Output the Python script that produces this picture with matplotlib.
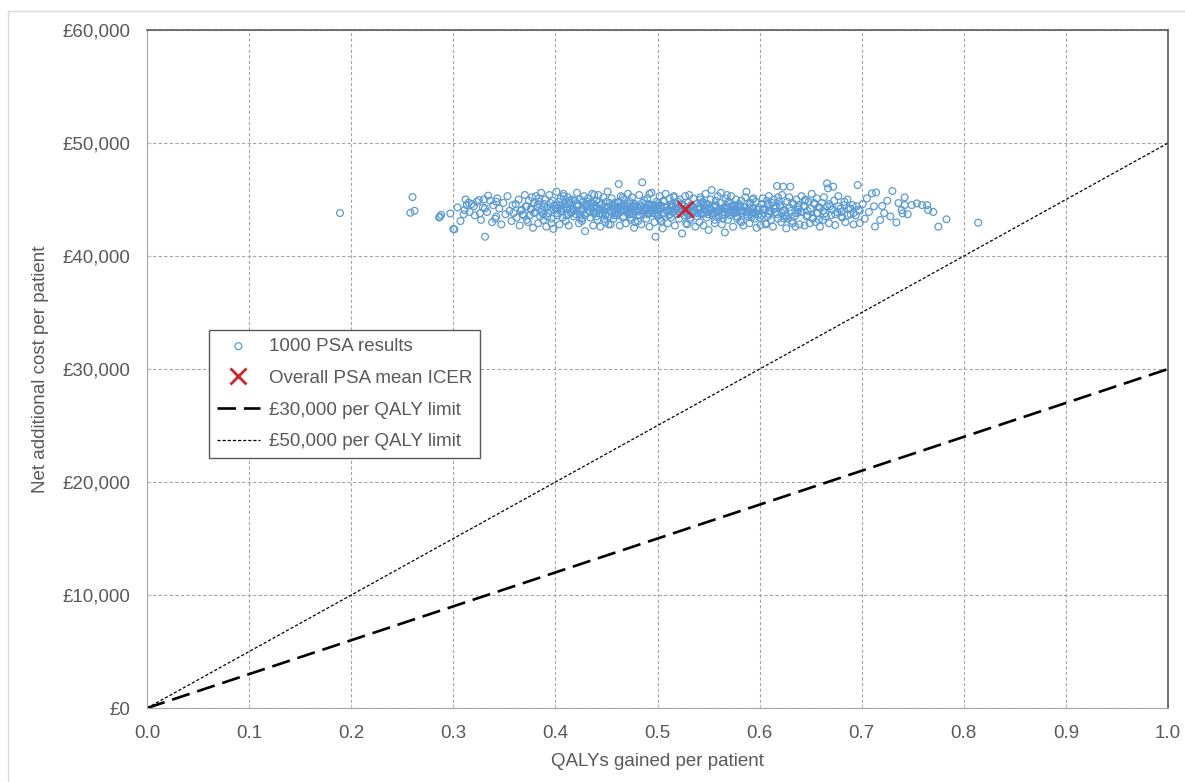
import matplotlib.pyplot as plt
from matplotlib.patches import Rectangle

plt.rcParams['font.family'] = ['Liberation Sans', 'DejaVu Sans']

# =========================
# Data
# =========================

# PSA results (QALYs gained, net additional cost)
psa_qaly = [
    0.189, 0.258, 0.260, 0.262, 0.286, 0.287, 0.288, 0.297, 0.300, 0.301, 0.310, 0.311,
    0.313, 0.315, 0.320, 0.325, 0.326, 0.330, 0.331, 0.331, 0.334, 0.342, 0.342,
    0.304, 0.307, 0.312, 0.316, 0.318,
    0.321, 0.323, 0.327, 0.329, 0.333, 0.336, 0.338, 0.339,
    0.341, 0.343, 0.345, 0.347, 0.349, 0.351, 0.353, 0.355, 0.357, 0.358, 0.359,
    0.361, 0.362, 0.364, 0.365, 0.367, 0.368, 0.370, 0.371, 0.373, 0.374, 0.375, 0.376,
    0.377, 0.378, 0.379,
    0.380, 0.381, 0.382, 0.383, 0.384, 0.385, 0.386, 0.387, 0.388, 0.389, 0.390, 0.391,
    0.392, 0.393, 0.394, 0.395, 0.396, 0.397, 0.398, 0.399,
    0.400, 0.401, 0.402, 0.403, 0.404, 0.405, 0.406, 0.407, 0.408, 0.409, 0.410, 0.411,
    0.412, 0.413, 0.414, 0.415, 0.416, 0.417, 0.418, 0.419, 0.401, 0.405, 0.409, 0.413, 0.417,
    0.420, 0.421, 0.422, 0.423, 0.424, 0.425, 0.426, 0.427, 0.428, 0.429, 0.430, 0.431,
    0.432, 0.433, 0.434, 0.435, 0.436, 0.437, 0.438, 0.439, 0.422, 0.424, 0.427, 0.429,
    0.432, 0.434, 0.437, 0.439,
    0.440, 0.441, 0.442, 0.443, 0.444, 0.445, 0.446, 0.447, 0.448, 0.449, 0.450, 0.451,
    0.452, 0.453, 0.454, 0.455, 0.456, 0.457, 0.458, 0.459, 0.441, 0.443, 0.445, 0.447,
    0.449, 0.451, 0.453, 0.455, 0.457, 0.459,
    0.460, 0.461, 0.462, 0.463, 0.464, 0.465, 0.466, 0.467, 0.468, 0.469, 0.470, 0.471,
    0.472, 0.473, 0.474, 0.475, 0.476, 0.477, 0.478, 0.479, 0.461, 0.462, 0.464, 0.466,
    0.467, 0.469, 0.471, 0.472, 0.474, 0.476, 0.477, 0.479, 0.468,
    0.480, 0.481, 0.482, 0.483, 0.484, 0.485, 0.486, 0.487, 0.488, 0.489, 0.490, 0.491,
    0.492, 0.493, 0.494, 0.495, 0.496, 0.497, 0.498, 0.499, 0.481, 0.482, 0.484, 0.486,
    0.487, 0.489, 0.491, 0.492, 0.494, 0.496, 0.497, 0.498, 0.499,
    0.500, 0.501, 0.502, 0.503, 0.504, 0.505, 0.506, 0.507, 0.508, 0.509, 0.510, 0.511,
    0.512, 0.513, 0.514, 0.515, 0.516, 0.517, 0.518, 0.519, 0.501, 0.503, 0.505, 0.507,
    0.509, 0.511, 0.513, 0.515, 0.517, 0.519,
    0.520, 0.521, 0.522, 0.523, 0.524, 0.525, 0.526, 0.527, 0.528, 0.529, 0.530, 0.531,
    0.532, 0.533, 0.534, 0.535, 0.536, 0.537, 0.538, 0.539, 0.521, 0.523, 0.525, 0.527,
    0.529, 0.531, 0.533, 0.535, 0.537, 0.539,
    0.540, 0.541, 0.542, 0.543, 0.544, 0.545, 0.546, 0.547, 0.548, 0.549, 0.550, 0.551,
    0.552, 0.553, 0.554, 0.555, 0.556, 0.557, 0.558, 0.559, 0.541, 0.543, 0.545, 0.547,
    0.549, 0.551, 0.553, 0.555, 0.557, 0.559,
    0.560, 0.561, 0.562, 0.563, 0.564, 0.565, 0.566, 0.567, 0.568, 0.569, 0.570, 0.571,
    0.572, 0.573, 0.574, 0.575, 0.576, 0.577, 0.578, 0.579, 0.562, 0.564, 0.567, 0.569,
    0.572, 0.574, 0.577, 0.579,
    0.580, 0.581, 0.582, 0.583, 0.584, 0.585, 0.586, 0.587, 0.588, 0.589, 0.590, 0.591,
    0.592, 0.593, 0.594, 0.595, 0.596, 0.597, 0.598, 0.599, 0.582, 0.586, 0.590, 0.594, 0.598,
    0.600, 0.601, 0.602, 0.603, 0.604, 0.605, 0.606, 0.607, 0.608, 0.609, 0.610, 0.611,
    0.612, 0.613, 0.614, 0.615, 0.616, 0.617, 0.618, 0.619, 0.603, 0.609, 0.615,
    0.620, 0.621, 0.622, 0.623, 0.624, 0.625, 0.626, 0.627, 0.628, 0.629, 0.630, 0.631,
    0.632, 0.633, 0.634, 0.635, 0.636, 0.637, 0.638, 0.639,
    0.640, 0.641, 0.643, 0.644, 0.645, 0.646, 0.648, 0.649, 0.650, 0.651, 0.652, 0.654,
    0.655, 0.656, 0.657, 0.658, 0.659, 0.647,
    0.661, 0.662, 0.663, 0.664, 0.666, 0.667, 0.668, 0.669, 0.670, 0.672, 0.673, 0.674,
    0.676, 0.677, 0.679,
    0.681, 0.683, 0.684, 0.686, 0.687, 0.689, 0.691, 0.692, 0.694, 0.696, 0.697, 0.698,
    0.701, 0.703, 0.705, 0.707, 0.710, 0.712, 0.713, 0.714, 0.718, 0.720,
    0.722, 0.725, 0.728, 0.730, 0.734, 0.736, 0.739, 0.740,
    0.742, 0.742, 0.745, 0.749, 0.754, 0.759, 0.764, 0.765, 0.770, 0.775, 0.783, 0.814,
    # denser core of the cloud
    0.366, 0.369, 0.372, 0.376, 0.379, 0.383, 0.386, 0.389, 0.392, 0.395, 0.398, 0.402,
    0.405, 0.408, 0.411, 0.414, 0.418, 0.421, 0.424, 0.427, 0.431, 0.434, 0.437, 0.440,
    0.443, 0.446, 0.449, 0.452, 0.455, 0.458,
    0.461, 0.464, 0.467, 0.470, 0.473, 0.476, 0.479, 0.482, 0.485, 0.488, 0.491, 0.494,
    0.497, 0.500, 0.503, 0.506, 0.509, 0.512, 0.515, 0.518, 0.521, 0.524, 0.527, 0.530,
    0.533, 0.536, 0.539, 0.542, 0.545, 0.548,
    0.551, 0.554, 0.557, 0.560, 0.563, 0.566, 0.569, 0.572, 0.575, 0.578, 0.581, 0.584,
    0.587, 0.590, 0.593, 0.596, 0.599, 0.602, 0.605, 0.608, 0.611, 0.614, 0.617, 0.620,
    0.623, 0.626, 0.629, 0.632, 0.635, 0.638,
    0.641, 0.644, 0.647, 0.650, 0.653, 0.656, 0.659, 0.662, 0.665, 0.668, 0.671, 0.674,
    0.677, 0.680, 0.683, 0.686, 0.689, 0.692, 0.695, 0.698, 0.372, 0.384, 0.396, 0.408,
    0.426, 0.438, 0.452, 0.466, 0.478, 0.492,
    0.504, 0.516, 0.528, 0.542, 0.556, 0.568, 0.582, 0.594, 0.606, 0.618, 0.632, 0.644,
    0.658, 0.388, 0.402, 0.416, 0.430, 0.444, 0.458, 0.472, 0.486, 0.500, 0.514, 0.530,
    0.546, 0.562, 0.576, 0.590, 0.604, 0.622,
    0.412, 0.424, 0.436, 0.448, 0.462, 0.474, 0.488, 0.502, 0.518, 0.532, 0.548, 0.564,
    0.578, 0.592, 0.608, 0.624, 0.638, 0.652, 0.666, 0.680,
]

psa_cost = [
    43800, 43830, 45220, 44000, 43420, 43480, 43650, 43770, 42390, 42360, 43690, 44070,
    44510, 44720, 44420, 44960, 43780, 45020, 44220, 41710, 45340, 44810, 43490,
    44300, 43100, 45000, 43900, 44600,
    43600, 44800, 43200, 44300, 43900, 44900, 43000, 44500,
    43300, 45100, 44200, 42800, 44700, 43700, 45300, 44000, 43100, 44500, 43800,
    44600, 43400, 45000, 42700, 44100, 43700, 45400, 44400, 43000, 44900, 43600, 44200,
    45200, 42500, 44700,
    43900, 45300, 44400, 42900, 44800, 43500, 45600, 44100, 43200, 44600, 45000, 42600,
    44300, 43800, 45400, 44000, 43300, 44900, 42400, 44500,
    44200, 45700, 43600, 44800, 42800, 45100, 44000, 43400, 45500, 44600, 43100, 44300,
    45200, 42700, 44700, 43800, 45000, 44100, 43500, 44900, 44500, 43900, 44400, 43700, 44200,
    43700, 45600, 44400, 42900, 45000, 44100, 43300, 44800, 45300, 42200, 44500, 43800,
    45100, 44000, 43400, 44700, 45500, 42700, 44300, 43900, 44600, 44000, 44200, 43600,
    44800, 44300, 43800, 44500,
    44900, 43200, 45400, 44100, 42600, 44600, 43700, 45200, 44300, 43000, 44800, 45700,
    43500, 44000, 42800, 45100, 44400, 43300, 44700, 43900, 44200, 43800, 44500, 44000,
    43600, 44300, 44700, 43900, 44100, 44400,
    43600, 44700, 46370, 42700, 45300, 44200, 43400, 45000, 44500, 42900, 44000, 45500,
    43700, 44800, 43200, 45200, 44300, 42500, 44600, 43900, 44100, 43800, 44400, 44000,
    43500, 44300, 44600, 43900, 44200, 43700, 44500, 44100, 44000,
    44400, 43100, 45400, 44000, 42800, 46520, 43700, 44900, 44300, 43300, 45100, 44600,
    42600, 44000, 45600, 43800, 44500, 43000, 41710, 44800, 44200, 43600, 44400, 44100,
    43900, 44300, 43700, 44600, 44000, 44200, 43800, 44500, 44100,
    43500, 44700, 45300, 43100, 44200, 42450, 44900, 43800, 45500, 44400, 42900, 44000,
    45100, 43400, 44600, 43900, 45200, 42700, 44300, 43700, 44100, 44500, 43800, 44300,
    44000, 43600, 44400, 43900, 44200, 44600,
    44800, 43300, 45000, 44100, 42000, 44500, 43600, 45300, 43900, 42800, 44700, 45400,
    43200, 44300, 43800, 45100, 44000, 42600, 44600, 43500, 44200, 43800, 44400, 44000,
    44300, 43700, 44500, 44100, 43900, 44200,
    44400, 43000, 45200, 43700, 44800, 42700, 44100, 45500, 43400, 44600, 42300, 44000,
    45000, 45840, 43600, 44300, 42900, 44900, 43900, 45300, 44200, 43800, 44500, 44000,
    43700, 44300, 44100, 43900, 44400, 44000,
    43500, 44700, 45600, 42800, 44200, 43900, 42090, 45100, 44400, 43200, 44800, 43600,
    45300, 44000, 42600, 44500, 43800, 45000, 43300, 44300, 44100, 43700, 44200, 43900,
    44400, 43800, 44000, 44300,
    44600, 43100, 44900, 43800, 42700, 44300, 45200, 45690, 43500, 44000, 42900, 44700,
    43600, 45000, 44200, 43300, 44800, 42500, 44100, 43700, 44000, 43900, 44300, 43800, 44100,
    43400, 42740, 44600, 45100, 43800, 44200, 42800, 44900, 43500, 45300, 44000, 43200,
    44700, 42600, 45000, 43900, 44400, 46200, 43300, 44800, 44100, 43700, 44200,
    44500, 43000, 45400, 46140, 44100, 43600, 42450, 44800, 43300, 45200, 46140, 44000,
    42900, 44600, 43500, 42600, 45000, 43800, 44300, 42800,
    43900, 45300, 44400, 42700, 45000, 43500, 44800, 42900, 44200, 45500, 43300, 44600,
    43000, 45100, 43800, 44300, 42600, 44000,
    44700, 43200, 45200, 43800, 46430, 45990, 42900, 44400, 43600, 46140, 44900, 42740,
    43900, 45300, 44200,
    43400, 44800, 43000, 45000, 44200, 43700, 44500, 42800, 43600, 46280, 44100, 42920,
    44600, 43300, 45100, 43900, 45540, 44400, 42600, 45630, 43190, 44430,
    43800, 44900, 43500, 45750, 42980, 44690, 44070, 43780,
    45190, 44510, 43700, 44510, 44660, 44510, 44510, 44070, 43900, 42600, 43250, 42950,
    # denser core of the cloud
    44000, 43600, 44400, 44100, 43800, 44600, 43900, 44300, 43500, 44700, 44100, 43800,
    44500, 44200, 43600, 44900, 44000, 44400, 43700, 44100, 44600, 43900, 44300, 43500,
    44800, 44100, 43700, 44400, 44000, 43600,
    44300, 43900, 44600, 44100, 43700, 44400, 44000, 43600, 44700, 44200, 43800, 44500,
    44100, 43500, 44300, 44800, 44000, 43700, 44400, 44100, 43900, 44600, 44200, 43600,
    44500, 44000, 43800, 44300, 44700, 43900,
    44200, 43800, 44500, 44000, 43600, 44300, 44700, 43900, 44100, 43500, 44400, 44000,
    43700, 44600, 44200, 43800, 44300, 43600, 44100, 44500, 43900, 44200, 43700, 44400,
    44000, 43500, 44300, 44700, 43800, 44100,
    43900, 44400, 43600, 44200, 44700, 43800, 44300, 44000, 43500, 44600, 44100, 43700,
    44400, 43900, 44500, 43600, 44200, 43800, 44400, 44000, 43200, 45100, 42900, 45300,
    43100, 45400, 42800, 45200, 43000, 45500,
    43100, 45300, 42900, 45000, 43200, 45400, 43000, 45100, 42900, 45200, 43100, 44900,
    43200, 43700, 44200, 43900, 44500, 44100, 43800, 44400, 44000, 43700, 44300, 44100,
    43800, 44200, 44400, 43900, 44100, 43800,
    44600, 43400, 44700, 43300, 44800, 43400, 44600, 43300, 44700, 43400, 44600, 43300,
    44500, 43400, 44600, 43300, 44500, 43400, 44400, 43500,
]

# Overall PSA mean ICER
mean_qaly = 0.527
mean_cost = 44130

# Willingness-to-pay threshold lines
wtp_qaly = [0.0, 1.0]
wtp_30k = [0, 30000]
wtp_50k = [0, 50000]

x_ticks = [0.0, 0.1, 0.2, 0.3, 0.4, 0.5, 0.6, 0.7, 0.8, 0.9, 1.0]
x_tick_labels = ["0.0", "0.1", "0.2", "0.3", "0.4", "0.5", "0.6", "0.7", "0.8", "0.9", "1.0"]
y_ticks = [0, 10000, 20000, 30000, 40000, 50000, 60000]
y_tick_labels = ["£0", "£10,000", "£20,000", "£30,000", "£40,000", "£50,000", "£60,000"]


# =========================
# Plot
# =========================

text_col = "#595959"

fig = plt.figure(figsize=(11.85, 7.82), dpi=100)
ax = fig.add_axes([0.1241, 0.0946, 0.8616, 0.867])

ax.scatter(psa_qaly, psa_cost, s=24, facecolors="none", edgecolors="#5B9BD5",
           linewidths=0.9, label="1000 PSA results", zorder=3)
ax.plot([mean_qaly], [mean_cost], linestyle="none", marker="x", markersize=11,
        markeredgewidth=2.0, color="#D2232A", label="Overall PSA mean ICER", zorder=4)
ax.plot(wtp_qaly, wtp_30k, color="black", linewidth=1.9, dashes=(7, 3),
        label="£30,000 per QALY limit", zorder=2)
ax.plot(wtp_qaly, wtp_50k, color="black", linewidth=0.9, dashes=(2.5, 1.6),
        label="£50,000 per QALY limit", zorder=2)

ax.set_xlim(0, 1.0)
ax.set_ylim(0, 60000)
ax.set_xticks(x_ticks)
ax.set_xticklabels(x_tick_labels)
ax.set_yticks(y_ticks)
ax.set_yticklabels(y_tick_labels)

ax.grid(True, color="#A6A6A6", linestyle=(0, (3, 2)), linewidth=0.8)
ax.set_axisbelow(True)

ax.tick_params(axis="both", direction="in", length=3, color="#BFBFBF",
               labelsize=13.5, labelcolor=text_col, pad=12)

for side in ["left", "bottom"]:
    ax.spines[side].set_color("#A6A6A6")
for side in ["top", "right"]:
    ax.spines[side].set_color("#5A5A5A")
    ax.spines[side].set_linewidth(1.2)

ax.set_xlabel("QALYs gained per patient", fontsize=13.5, color=text_col, labelpad=8)
ax.set_ylabel("Net additional cost per patient", fontsize=13.5, color=text_col, labelpad=10)

leg = ax.legend(loc="lower left", bbox_to_anchor=(0.061, 0.369), fontsize=13.5,
                frameon=True, fancybox=False, edgecolor="#595959", framealpha=1,
                handlelength=2.3, handletextpad=0.5, labelspacing=0.78,
                borderpad=0.4, borderaxespad=0)
leg.get_frame().set_linewidth(1.0)
for t in leg.get_texts():
    t.set_color(text_col)

# light border around the whole picture
fig.patches.append(Rectangle((8 / 1185, -0.01), 1.02, (782 - 11) / 782 + 0.01,
                             transform=fig.transFigure, fill=False,
                             edgecolor="#D9D9D9", linewidth=1.0))

plt.savefig("out.png", dpi=100)
plt.close()
